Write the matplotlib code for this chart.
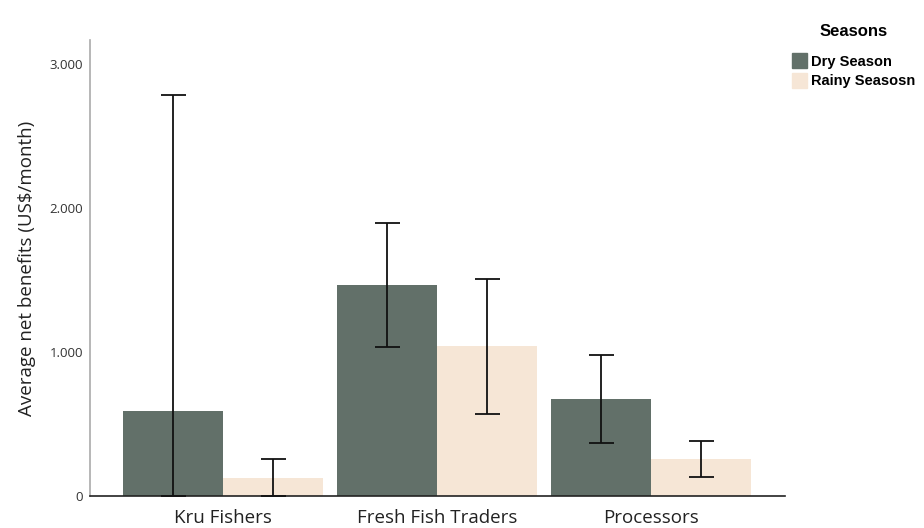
import matplotlib.pyplot as plt
import matplotlib.patches as mpatches
import numpy as np

plt.rcParams['font.family'] = ['Open Sans', 'DejaVu Sans']

groups = ['Kru Fishers', 'Fresh Fish Traders', 'Processors']
dry_mean = [590, 1465, 674]
dry_low = [0, 1035, 368]
dry_high = [2785, 1896, 979]
rainy_mean = [125, 1042, 257]
rainy_low = [0, 569, 132]
rainy_high = [257, 1507, 382]
yticks = [0, 1000, 2000, 3000]
ytick_labels = ['0', '1.000', '2.000', '3.000']

dry_color = '#627069'
rainy_color = '#f6e6d6'

fig = plt.figure(figsize=(9.24, 5.28), dpi=100)
ax = fig.add_axes([0.0974, 0.0606, 0.7522, 0.8636])

x = np.arange(len(groups))
w = 0.467

dry_x = x - w / 2
rainy_x = x + w / 2
ax.bar(dry_x, dry_mean, width=w, color=dry_color, zorder=2)
ax.bar(rainy_x, rainy_mean, width=w, color=rainy_color, zorder=2)

dry_err = [np.array(dry_mean) - np.array(dry_low), np.array(dry_high) - np.array(dry_mean)]
rainy_err = [np.array(rainy_mean) - np.array(rainy_low), np.array(rainy_high) - np.array(rainy_mean)]
ax.errorbar(dry_x, dry_mean, yerr=dry_err, fmt='none', ecolor='#111111',
            elinewidth=1.3, capsize=9, capthick=1.3, zorder=3)
ax.errorbar(rainy_x, rainy_mean, yerr=rainy_err, fmt='none', ecolor='#111111',
            elinewidth=1.3, capsize=9, capthick=1.3, zorder=3)

ax.set_xlim(-0.621, 2.626)
ax.set_ylim(0, 3167)
ax.set_yticks(yticks)
ax.set_yticklabels(ytick_labels, fontsize=9.5, color='#333333')
ax.set_xticks(x)
ax.set_xticklabels(groups, fontsize=13.5, color='#222222')
ax.tick_params(axis='both', length=0)
ax.tick_params(axis='y', pad=5)
ax.tick_params(axis='x', pad=9)

ax.spines['top'].set_visible(False)
ax.spines['right'].set_visible(False)
ax.spines['left'].set_color('#aaaaaa')
ax.spines['left'].set_linewidth(1.2)
ax.spines['bottom'].set_color('#222222')
ax.spines['bottom'].set_linewidth(1.2)

ax.set_ylabel('Average net benefits (US$/month)', fontsize=13.5, color='#222222', labelpad=10)

handles = [mpatches.Patch(color=dry_color, label='Dry Season'),
           mpatches.Patch(color=rainy_color, label='Rainy Seasosn')]
leg = fig.legend(handles=handles, title='Seasons', loc='upper left',
                 bbox_to_anchor=(0.851, 0.965), frameon=False,
                 prop={'size': 10.5, 'weight': 'bold', 'family': 'Liberation Sans'},
                 handlelength=1.0, handleheight=1.2, handletextpad=0.3,
                 labelspacing=0.3, borderaxespad=0)
leg.get_title().set_fontsize(12)
leg.get_title().set_fontweight('bold')
leg.get_title().set_family('Liberation Sans')
leg._legend_box.align = 'center'
leg._legend_box.sep = 10

fig.savefig('out.png', dpi=100)
